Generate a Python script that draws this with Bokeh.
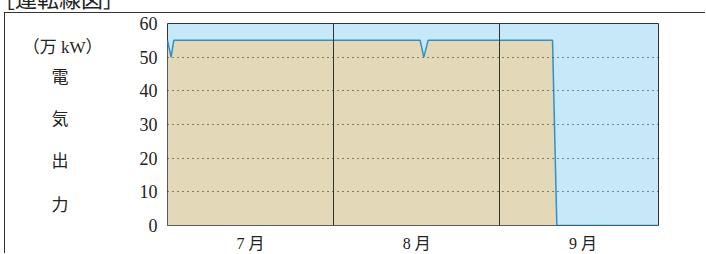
from bokeh.plotting import figure
from bokeh.models import Range1d, FixedTicker, LinearAxis
from bokeh.embed import file_html
from bokeh.resources import INLINE

# ---- data ----
days = [0, 0.67, 1.17, 47.13, 47.82, 48.62, 71.83, 72.63, 91.6]
power = [55, 50, 55, 55, 50, 55, 55, 0, 0]
month_bounds = [31, 62]
month_centers = [15.5, 46.5, 77.5]
month_labels = ["7 月", "8 月", "9 月"]
y_ticks = [0, 10, 20, 30, 40, 50, 60]
grid_ticks = [10, 20, 30, 40, 50]
unit_label = "（万 kW）"
ylabel_chars = ["電", "気", "出", "力"]
title_text = "［運転線図］"

# vertical placement (in y-axis units) of the stacked axis-title texts
title_pos = [52.95, 44.1, 31.5, 19.0, 6.0]

W, H = 701, 241
p = figure(width=W, height=H, output_backend="svg", toolbar_location=None,
           x_range=Range1d(0, 91.6), y_range=Range1d(0, 60),
           min_border_left=162, min_border_right=48, min_border_top=10,
           min_border_bottom=27)
# outer frame lines (top and left) of the figure box
p.styles = {"margin-top": "12px", "margin-left": "4px",
            "border-top": "1px solid #333333", "border-left": "1px solid #333333"}
p.stylesheets = [
    ":host::before { content: '%s'; position: absolute; left: -12px; top: -27px; "
    "font-size: 22px; line-height: 1; font-family: 'Noto Sans CJK JP'; color: #222222; "
    "white-space: nowrap; }" % title_text
]

p.background_fill_color = "#C6E8F8"
p.border_fill_color = "white"
p.outline_line_color = "#333333"
p.outline_line_width = 1

p.varea(x=days, y1=0, y2=power, fill_color="#E3D8B7")
p.line(x=days, y=power, line_color="#2B92CF", line_width=1.5)

# grids
p.ygrid.ticker = FixedTicker(ticks=grid_ticks)
p.ygrid.grid_line_color = "#222222"
p.ygrid.grid_line_dash = "1 4"
p.ygrid.grid_line_width = 1
p.ygrid.level = "guide"
p.xgrid.ticker = FixedTicker(ticks=month_bounds)
p.xgrid.grid_line_color = "#333333"
p.xgrid.grid_line_width = 1
p.xgrid.level = "guide"

SERIF = "'Liberation Serif', 'Noto Sans CJK JP'"


def plain(ax):
    ax.axis_line_color = None
    ax.major_tick_line_color = None
    ax.minor_tick_line_color = None
    ax.major_tick_out = 0
    ax.minor_tick_out = 0
    ax.major_label_text_color = "#222222"
    ax.major_label_text_font = SERIF


# y axis (numbers)
ya = p.yaxis[0]
ya.ticker = FixedTicker(ticks=y_ticks)
plain(ya)
ya.major_label_text_font_size = "18px"
ya.major_label_standoff = 10

# second left axis carrying the stacked title texts
title_texts = [unit_label] + [ch + "\u3000\u2002\u2002" for ch in ylabel_chars]
ya2 = LinearAxis(ticker=FixedTicker(ticks=title_pos),
                 major_label_overrides={v: t for v, t in zip(title_pos, title_texts)})
plain(ya2)
ya2.major_label_text_font_size = "17px"
ya2.major_label_standoff = 34
p.add_layout(ya2, "left")

# x axis with month labels
xa = p.xaxis[0]
xa.ticker = FixedTicker(ticks=month_centers)
xa.major_label_overrides = {c: l for c, l in zip(month_centers, month_labels)}
plain(xa)
xa.major_label_text_font_size = "16px"
xa.major_label_standoff = 9

open("out.html", "w").write(file_html(p, INLINE))
